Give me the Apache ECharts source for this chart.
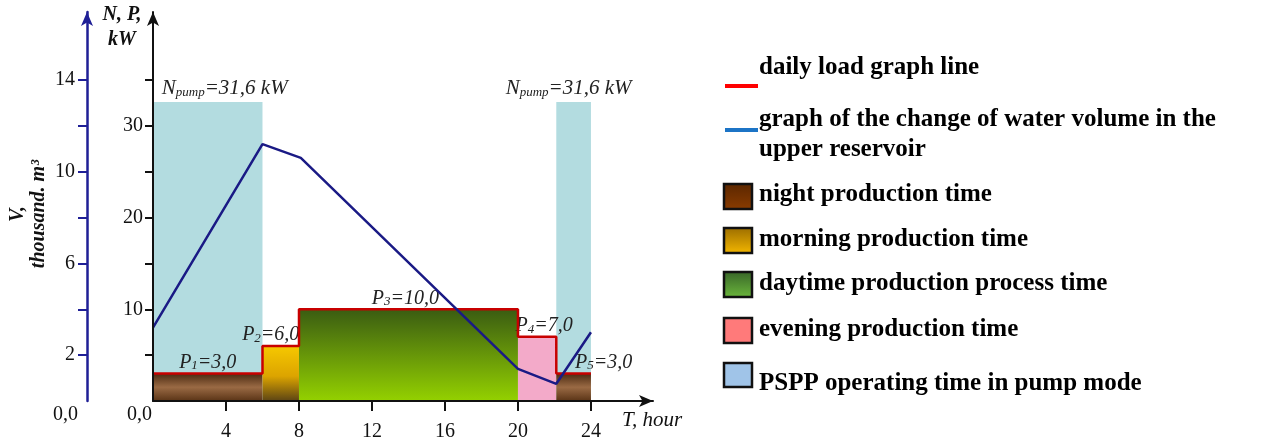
<!DOCTYPE html>
<html><head><meta charset="utf-8">
<script src="https://cdn.jsdelivr.net/npm/echarts@6/dist/echarts.min.js"></script>
<style>html,body{margin:0;padding:0;background:#fff}#c{width:1261px;height:442px}</style>
</head><body><div id="c"></div>
<script>
// ---- data ----
const periodStart = [0, 6, 8, 20, 22.1];
const periodEnd = [6, 8, 20, 22.1, 24];
const loadP = [3, 6, 10, 7, 3];
const periodType = ['night', 'morning', 'daytime', 'evening', 'night'];
const pumpStart = [0, 22.1];
const pumpEnd = [6, 24];
const pumpHeight = [32.6, 32.6];
const pumpText = 'N{s|pump}=31,6 kW';
const volumeHours = [0, 6, 8.1, 20, 22.1, 24];
const volumeV = [3.2, 11.2, 10.6, 1.4, 0.75, 3.0];
const xTickValues = [4, 8, 12, 16, 20, 24];
const kwTickValues = [5, 10, 15, 20, 25, 30, 35];
const kwLabelValues = [10, 20, 30];
const vTickValues = [2, 4, 6, 8, 10, 12, 14];
const vLabelValues = [2, 6, 10, 14];
const legendTexts = [
  'daily load graph line',
  'graph of the change of water volume in the\nupper reservoir',
  'night production time',
  'morning production time',
  'daytime production process time',
  'evening production time',
  'PSPP operating time in pump mode'
];

const FONT = 'Liberation Serif';
const G = echarts.graphic;
const fills = {
  night: () => new G.LinearGradient(0, 0, 0, 1, [{offset: 0, color: '#4a2a12'}, {offset: 0.5, color: '#9a6a44'}, {offset: 1, color: '#5a3416'}]),
  morning: () => new G.LinearGradient(0, 0, 0, 1, [{offset: 0, color: '#f6c800'}, {offset: 0.55, color: '#dca400'}, {offset: 1, color: '#5c4414'}]),
  daytime: () => new G.LinearGradient(0, 0, 0, 1, [{offset: 0, color: '#3a5c12'}, {offset: 1, color: '#94d100'}]),
  evening: () => '#f3aac9'
};
const rich = {
  s: {fontFamily: FONT, fontStyle: 'italic', fontSize: 13, color: '#222', verticalAlign: 'bottom'}
};
const fmt = v => v.toFixed(1).replace('.', ',');

const productionData = periodStart.map((s, i) => [s, periodEnd[i], loadP[i], i]);
const pumpData = pumpStart.map((s, i) => [s, pumpEnd[i], pumpHeight[i], i]);
const loadLine = [];
periodStart.forEach((s, i) => { loadLine.push([s, loadP[i]]); loadLine.push([periodEnd[i], loadP[i]]); });
const volumeLine = volumeHours.map((h, i) => [h, volumeV[i]]);

const prodLabelDx = [0, -10, -3, 7, 30];
const pumpLabelDx = [17, -5];

function textEl(x, y, text, font, align, vAlign) {
  return {type: 'text', x: x, y: y, style: {text: text, font: font, fill: '#222', align: align, textAlign: align, verticalAlign: vAlign, textVerticalAlign: vAlign, rich: rich}};
}

const chart = echarts.init(document.getElementById('c'));
const axisFont = {fontFamily: FONT, fontSize: 20, color: '#111'};
chart.setOption({
  animation: false,
  grid: {left: 153, right: 608, top: 12, bottom: 40, containLabel: false},
  xAxis: {
    type: 'value', min: 0, max: 27.4, interval: 4, z: 10,
    splitLine: {show: false},
    axisLine: {lineStyle: {color: '#111', width: 2}, symbol: ['none', 'arrow'], symbolSize: [9, 14]},
    axisTick: {customValues: xTickValues, length: 10, lineStyle: {color: '#111', width: 2}},
    axisLabel: Object.assign({customValues: xTickValues, margin: 21}, axisFont)
  },
  yAxis: [{
    type: 'value', min: 0, max: 42.4, interval: 5, z: 10,
    splitLine: {show: false},
    axisLine: {show: true, lineStyle: {color: '#111', width: 2}, symbol: ['none', 'arrow'], symbolSize: [9, 14]},
    axisTick: {show: true, customValues: kwTickValues, length: 8, lineStyle: {color: '#111', width: 2}},
    axisLabel: Object.assign({customValues: kwLabelValues, margin: 10}, axisFont)
  }, {
    type: 'value', min: 0, max: 16.96, interval: 2, position: 'left', offset: 66, z: 10,
    splitLine: {show: false},
    axisLine: {show: true, lineStyle: {color: '#1f1f96', width: 2.5}, symbol: ['none', 'arrow'], symbolSize: [9, 14]},
    axisTick: {show: true, customValues: vTickValues, length: 9, lineStyle: {color: '#1f1f96', width: 2}},
    axisLabel: Object.assign({customValues: vLabelValues, margin: 12}, axisFont)
  }],
  series: [{
    type: 'custom', name: 'pump', z: 1,
    data: pumpData,
    renderItem: (params, api) => {
      const p0 = api.coord([api.value(0), api.value(2)]);
      const p1 = api.coord([api.value(1), 0]);
      const idx = api.value(3);
      return {type: 'group', children: [
        {type: 'rect', shape: {x: p0[0], y: p0[1], width: p1[0] - p0[0], height: p1[1] - p0[1]}, style: {fill: '#b3dce0'}},
        textEl((p0[0] + p1[0]) / 2 + pumpLabelDx[idx], p0[1] - 3, pumpText, 'italic 21px ' + FONT, 'center', 'bottom')
      ]};
    }
  }, {
    type: 'custom', name: 'production', z: 2,
    data: productionData,
    renderItem: (params, api) => {
      const p0 = api.coord([api.value(0), api.value(2)]);
      const p1 = api.coord([api.value(1), 0]);
      const idx = api.value(3);
      const txt = 'P{s|' + (idx + 1) + '}=' + fmt(api.value(2));
      return {type: 'group', children: [
        {type: 'rect', shape: {x: p0[0], y: p0[1], width: p1[0] - p0[0], height: p1[1] - p0[1]}, style: {fill: fills[periodType[idx]]()}},
        textEl((p0[0] + p1[0]) / 2 + prodLabelDx[idx], p0[1] - 1, txt, 'italic 20px ' + FONT, 'center', 'bottom')
      ]};
    }
  }, {
    type: 'line', name: 'load', z: 3, data: loadLine, showSymbol: false,
    lineStyle: {color: '#c80000', width: 2.5}
  }, {
    type: 'line', name: 'volume', yAxisIndex: 1, z: 4, data: volumeLine, showSymbol: false,
    lineStyle: {color: '#1a1a85', width: 2.5}
  }],
  graphic: [
    // axis names and origin labels
    {type: 'text', left: 99, top: 2, style: {text: 'N, P,\nkW', font: 'italic bold 20px ' + FONT, fill: '#111', textAlign: 'center', align: 'center', lineHeight: 25, width: 46}},
    {type: 'text', x: 28, y: 214, rotation: Math.PI / 2, style: {text: 'V,\nthousand. m³', font: 'italic bold 20px ' + FONT, fill: '#111', align: 'center', textAlign: 'center', verticalAlign: 'middle', textVerticalAlign: 'middle', lineHeight: 21}},
    {type: 'text', x: 152, y: 415, style: {text: '0,0', font: '20px ' + FONT, fill: '#111', align: 'right', textAlign: 'right', verticalAlign: 'middle', textVerticalAlign: 'middle'}},
    {type: 'text', x: 78, y: 415, style: {text: '0,0', font: '20px ' + FONT, fill: '#111', align: 'right', textAlign: 'right', verticalAlign: 'middle', textVerticalAlign: 'middle'}},
    {type: 'text', x: 622, y: 420, style: {text: 'T, hour', font: 'italic 21px ' + FONT, fill: '#111', align: 'left', textAlign: 'left', verticalAlign: 'middle', textVerticalAlign: 'middle'}},
    // legend
    {type: 'rect', shape: {x: 725, y: 84, width: 33, height: 4}, style: {fill: '#ff0000'}},
    {type: 'rect', shape: {x: 725, y: 128, width: 33, height: 4}, style: {fill: '#1c74c6'}},
    {type: 'rect', shape: {x: 724, y: 184, width: 28, height: 25}, style: {fill: new G.LinearGradient(0, 0, 0, 1, [{offset: 0, color: '#5a2600'}, {offset: 1, color: '#8a3c00'}]), stroke: '#111', lineWidth: 2.5}},
    {type: 'rect', shape: {x: 724, y: 228, width: 28, height: 25}, style: {fill: new G.LinearGradient(0, 0, 0, 1, [{offset: 0, color: '#9a6c00'}, {offset: 1, color: '#f5b800'}]), stroke: '#111', lineWidth: 2.5}},
    {type: 'rect', shape: {x: 724, y: 272, width: 28, height: 25}, style: {fill: new G.LinearGradient(0, 0, 0, 1, [{offset: 0, color: '#376428'}, {offset: 1, color: '#6cb83c'}]), stroke: '#111', lineWidth: 2.5}},
    {type: 'rect', shape: {x: 724, y: 318, width: 28, height: 25}, style: {fill: '#ff7a7a', stroke: '#111', lineWidth: 2.5}},
    {type: 'rect', shape: {x: 724, y: 363, width: 28, height: 24}, style: {fill: '#a0c4e8', stroke: '#111', lineWidth: 2.5}},
  ].concat([53, 105, 180, 225, 269, 315, 369].map((top, i) => ({
    type: 'text', x: 759, y: top,
    style: {text: legendTexts[i], font: 'bold 25px ' + FONT, fill: '#000', lineHeight: 30, align: 'left', textAlign: 'left', verticalAlign: 'top', textVerticalAlign: 'top'}
  })))
});
</script></body></html>
